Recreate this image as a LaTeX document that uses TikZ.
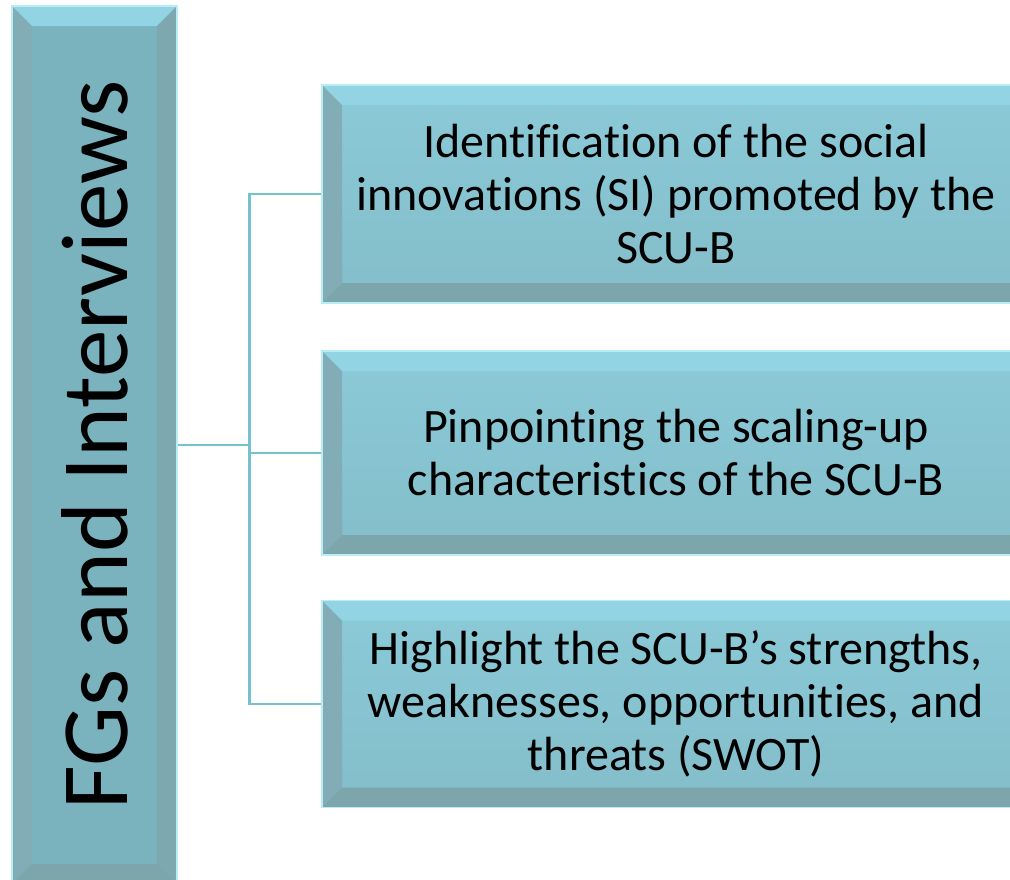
\documentclass[tikz,border=0pt]{standalone}
\usepackage{fontspec}
\setmainfont{Carlito}[Ligatures=NoCommon]
\usetikzlibrary{positioning}
\definecolor{PanelFace}{HTML}{84C0CC}
\definecolor{PanelFaceDark}{HTML}{7AB2BE}
\definecolor{PanelTop}{HTML}{92D4E4}
\definecolor{PanelLeft}{HTML}{82ADB6}
\definecolor{PanelRight}{HTML}{7DA8B0}
\definecolor{PanelBottom}{HTML}{7CA5AC}
\definecolor{PanelRim}{HTML}{B9EDF6}
\definecolor{LinkTeal}{HTML}{76C2CB}

\tikzset{
  bevel/.style={
    draw=PanelRim, line width=1.2pt,
    path picture={
      \def\bb{path picture bounding box}
      \fill[PanelTop] (\bb.north west) -- (\bb.north east)
        -- ([xshift=-#1,yshift=-#1]\bb.north east) -- ([xshift=#1,yshift=-#1]\bb.north west) -- cycle;
      \fill[PanelLeft] (\bb.north west) -- ([xshift=#1,yshift=-#1]\bb.north west)
        -- ([xshift=#1,yshift=#1]\bb.south west) -- (\bb.south west) -- cycle;
      \fill[PanelRight] (\bb.north east) -- ([xshift=-#1,yshift=-#1]\bb.north east)
        -- ([xshift=-#1,yshift=#1]\bb.south east) -- (\bb.south east) -- cycle;
      \fill[PanelBottom] (\bb.south west) -- ([xshift=#1,yshift=#1]\bb.south west)
        -- ([xshift=-#1,yshift=#1]\bb.south east) -- (\bb.south east) -- cycle;
    }},
  stagebox/.style={bevel=20pt, top color=PanelTop!50!PanelFace, bottom color=PanelFace!90!PanelBottom,
    minimum width=708pt, align=center, inner sep=0pt,
    font=\fontsize{48}{53}\selectfont},
  sourcebox/.style={bevel=20pt, fill=PanelFaceDark, minimum width=165pt, minimum height=878pt,
    inner sep=0pt},
  link/.style={draw=LinkTeal, line width=2.4pt}
}

\begin{document}
\begin{tikzpicture}[x=1pt, y=-1pt]
    \useasboundingbox (0,0) rectangle (1010,879);
    \clip (0,0) rectangle (1010,879);

    % Data source column
    \node[sourcebox] (fg) at (94.5,445) {};
    \node[rotate=90, font=\fontsize{95}{100}\selectfont] (fglabel) at (fg.center) {FGs and Interviews};

    % Three study aims
    \node[stagebox, minimum height=218pt] (aim1) at (676,194)
        {Identification of the social\\innovations (SI) promoted by the\\SCU-B};
    \node[stagebox, minimum height=204pt] (aim2) at (676,453)
        {Pinpointing the scaling-up\\characteristics of the SCU-B};
    \node[stagebox, minimum height=207pt] (aim3) at (676,704)
        {Highlight the SCU-B’s strengths,\\weaknesses, opportunities, and\\threats (SWOT)};

    % Bracket connectors
    \draw[link] (fg.east) -- ++(72,0) coordinate (hub);
    \draw[link] (aim1.west) -| (hub) |- (aim3.west);
    \draw[link] (aim2.west) -- (hub |- aim2.west);
\end{tikzpicture}
\end{document}
